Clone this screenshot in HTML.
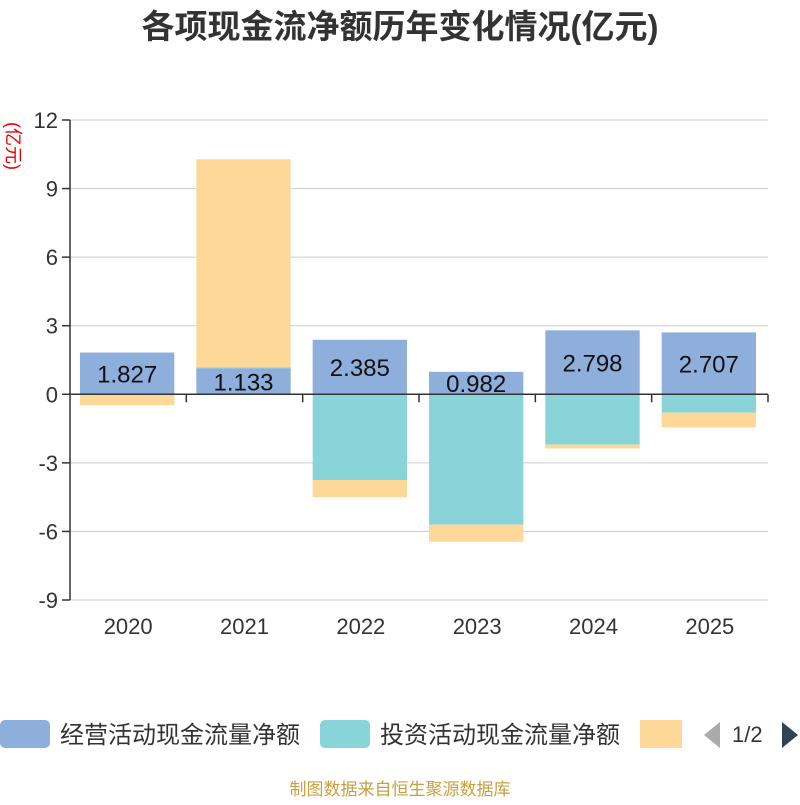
<!DOCTYPE html>
<html><head><meta charset="utf-8"><style>
body{margin:0;background:#fff;font-family:"Liberation Sans","Noto Sans CJK SC",sans-serif;}
</style></head><body>
<svg width="800" height="800" xmlns="http://www.w3.org/2000/svg">
<text x="400" y="38" text-anchor="middle" font-size="33" font-weight="bold" fill="#333" font-family="Liberation Sans,Noto Sans CJK SC,sans-serif">各项现金流净额历年变化情况(亿元)</text>
<text transform="translate(7,146) rotate(90)" text-anchor="middle" font-size="18" fill="#e00" font-family="Liberation Sans,Noto Sans CJK SC,sans-serif">(亿元)</text>
<g id="grid"></g><g id="bars"></g><g id="axes"></g>
<g font-family="Liberation Sans,Noto Sans CJK SC,sans-serif" font-size="24" fill="#333">
<rect x="0" y="720" width="50" height="28" rx="5" fill="#8eaedb"/>
<text x="60" y="743">经营活动现金流量净额</text>
<rect x="320" y="720" width="50" height="28" rx="5" fill="#88d4d8"/>
<text x="380" y="743">投资活动现金流量净额</text>
<rect x="640" y="720" width="42" height="28" fill="#fed899"/>
<polygon points="720,722 720,748 704,735" fill="#aaa"/>
<text x="732" y="742" font-size="22">1/2</text>
<polygon points="782,722 782,748 798,735" fill="#2f4554"/>
</g>
<text x="400" y="795" text-anchor="middle" font-size="17" fill="#c8a040" font-family="Liberation Sans,Noto Sans CJK SC,sans-serif">制图数据来自恒生聚源数据库</text>
</svg>
<script>
const years=["2020","2021","2022","2023","2024","2025"];
const operating=[1.827,1.133,2.385,0.982,2.798,2.707];
const investing=[-0.03,0.05,-3.75,-5.7,-2.2,-0.8];
const financing=[-0.45,9.1,-0.75,-0.75,-0.17,-0.65];
const yTicks=[12,9,6,3,0,-3,-6,-9];
const NS="http://www.w3.org/2000/svg";
const x0=70,x1=768,yTop=120,yBot=600,yMax=12,yMin=-9;
const y=v=>yTop+(yMax-v)/(yMax-yMin)*(yBot-yTop);
const bw=(x1-x0)/years.length;
function mk(t,a,p){const e=document.createElementNS(NS,t);for(const k in a)e.setAttribute(k,a[k]);p.appendChild(e);return e;}
const grid=document.getElementById('grid'),bars=document.getElementById('bars'),axes=document.getElementById('axes');
yTicks.forEach(t=>{
 const l=mk('line',{x1:x0,x2:x1,y1:y(t),y2:y(t),stroke:'#ccc','stroke-width':1},grid);
 
 
 const tk=mk('line',{x1:x0-8,x2:x0,y1:y(t),y2:y(t),stroke:'#333','stroke-width':1.5},axes);
 
 
 const tx=mk('text',{x:x0-12,y:y(t)+8,'text-anchor':'end','font-size':22,fill:'#333'},axes);
 tx.textContent=t;
 
 
});
const series=[[operating,'#8eaedb','operating'],[investing,'#88d4d8','investing'],[financing,'#fed899','financing']];
years.forEach((yr,i)=>{
 let pos=0,neg=0;
 const bx=x0+i*bw+10,w=bw-22;
 series.forEach(([arr,c,n])=>{
  const v=arr[i];let a,b;
  if(v>=0){a=pos;b=pos+v;pos=b;}else{a=neg;b=neg+v;neg=b;}
  const r=mk('rect',{x:bx,y:Math.min(y(a),y(b)),width:w,height:Math.abs(y(a)-y(b)),fill:c},bars);
  
  
 });
 const lb=mk('text',{x:bx+w/2,y:y(operating[i]/2)+9,'text-anchor':'middle','font-size':24,fill:'#111'},bars);
 lb.textContent=operating[i].toFixed(3);
 
 
 const xl=mk('text',{x:x0+i*bw+bw/2,y:634,'text-anchor':'middle','font-size':22,fill:'#333'},axes);
 xl.textContent=yr;
 
 
 const xt=mk('line',{x1:x0+(i+1)*bw,x2:x0+(i+1)*bw,y1:y(0),y2:y(0)+8,stroke:'#333','stroke-width':1.5},axes);
 
 
});
const ya=mk('line',{x1:x0,x2:x0,y1:yTop,y2:yBot,stroke:'#333','stroke-width':1.5},axes);


const xa=mk('line',{x1:x0,x2:x1,y1:y(0),y2:y(0),stroke:'#333','stroke-width':1.5},axes);


</script>
</body></html>
